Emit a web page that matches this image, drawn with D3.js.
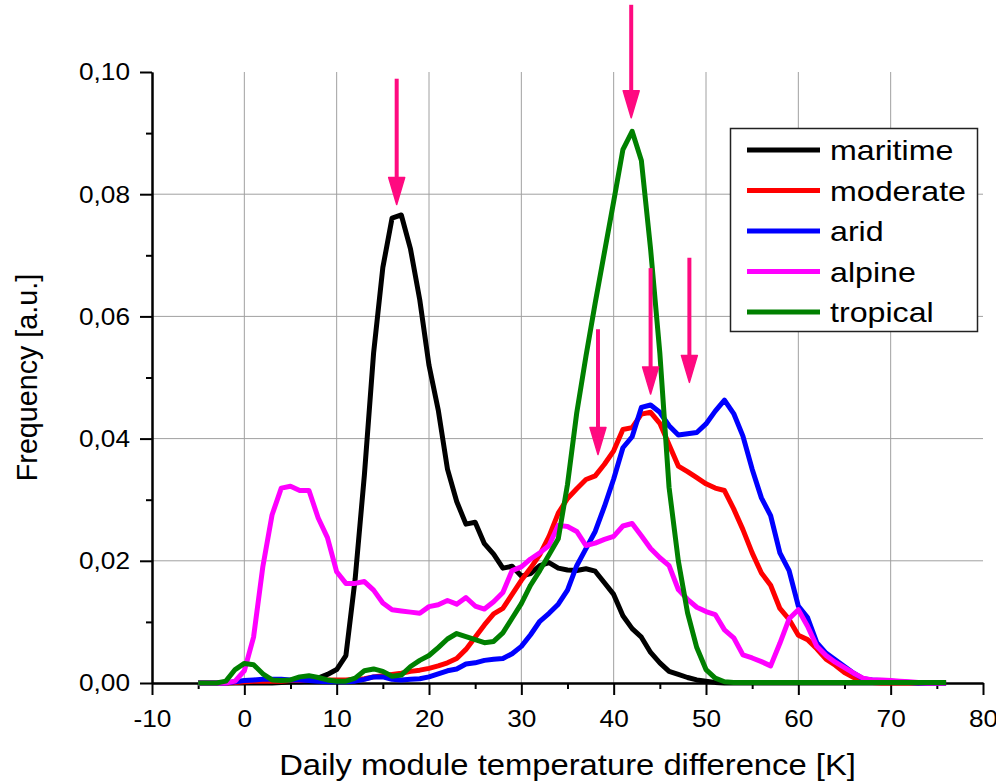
<!DOCTYPE html>
<html>
<head>
<meta charset="utf-8">
<title>Daily module temperature difference</title>
<script src="https://cdn.jsdelivr.net/npm/d3@7/dist/d3.min.js"></script>
<style>
body { margin: 0; background: #fff; }
text { font-family: "Liberation Sans", Arial, sans-serif; fill: #000; }
.grid line { stroke: #a0a0a0; stroke-width: 1px; }
.axis path, .axis line { stroke: #000; stroke-width: 2px; }
.curve { fill: none; stroke-width: 5px; stroke-linejoin: round; }
</style>
</head>
<body>
<script>

// bin positions [K], one value per bin for each climate zone
var bins = d3.range(-5, 77);

var maritime = [
  0, 0, 0, 0, 0, 0, 0, 0, 0, 0.0001,
  0.0002, 0.0002, 0.0003, 0.0008, 0.0014, 0.0022, 0.0045, 0.017, 0.034, 0.054,
  0.068, 0.0761, 0.0766, 0.071, 0.0627, 0.052, 0.0447, 0.035, 0.0297, 0.026,
  0.0263, 0.0228, 0.0211, 0.0188, 0.0191, 0.0175, 0.0179, 0.0192, 0.0197, 0.0188,
  0.0185, 0.0184, 0.0187, 0.0183, 0.0164, 0.0145, 0.011, 0.0089, 0.0075, 0.005,
  0.0033, 0.0019, 0.0014, 0.0009, 0.0005, 0.0003, 0.0001, 0, 0, 0,
  0, 0, 0, 0, 0, 0, 0, 0, 0, 0,
  0, 0, 0, 0, 0, 0, 0, 0, 0, 0,
  0, 0];

var moderate = [
  0, 0, 0, 0, 0.0001, 0.0002, 0.0003, 0.0003, 0.0003, 0.0003,
  0.0004, 0.0004, 0.0005, 0.0005, 0.0005, 0.0005, 0.0005, 0.0006, 0.0007, 0.001,
  0.0012, 0.0014, 0.0016, 0.0019, 0.0021, 0.0024, 0.0028, 0.0033, 0.004, 0.0055,
  0.0075, 0.0095, 0.0113, 0.0122, 0.0145, 0.0168, 0.0188, 0.021, 0.024, 0.0278,
  0.0302, 0.0318, 0.0333, 0.0339, 0.0358, 0.038, 0.0415, 0.0418, 0.044, 0.0443,
  0.0425, 0.039, 0.0355, 0.0346, 0.0336, 0.0326, 0.0319, 0.0315, 0.0285, 0.0251,
  0.0213, 0.018, 0.016, 0.0122, 0.0104, 0.0078, 0.0071, 0.0056, 0.0039, 0.0029,
  0.0017, 0.0009, 0.0003, 0.0001, 0, 0, 0, 0, 0, 0,
  0, 0];

var arid = [
  0, 0, 0, 0, 0.0002, 0.0004, 0.0005, 0.0006, 0.0006, 0.0006,
  0.0005, 0.0005, 0.0004, 0.0003, 0.0002, 0.0002, 0.0002, 0.0003, 0.0006, 0.001,
  0.001, 0.0006, 0.0005, 0.0006, 0.0007, 0.001, 0.0015, 0.002, 0.0023, 0.0031,
  0.0033, 0.0037, 0.0039, 0.004, 0.0048, 0.006, 0.0079, 0.0101, 0.0114, 0.0129,
  0.0152, 0.0192, 0.022, 0.0248, 0.0289, 0.0334, 0.0385, 0.0403, 0.0451, 0.0455,
  0.0443, 0.0421, 0.0406, 0.0408, 0.041, 0.0424, 0.0445, 0.0463, 0.0441, 0.0404,
  0.035, 0.0303, 0.0274, 0.0213, 0.0184, 0.0126, 0.0107, 0.0066, 0.0049, 0.0038,
  0.0027, 0.0016, 0.0007, 0.0005, 0.0004, 0.0003, 0.0002, 0.0001, 0, 0,
  0, 0];

var alpine = [
  0, 0, 0, 0, 0.0003, 0.002, 0.0075, 0.019, 0.0275, 0.0319,
  0.0322, 0.0315, 0.0315, 0.027, 0.0238, 0.0182, 0.0163, 0.0163, 0.0166, 0.0152,
  0.0131, 0.012, 0.0118, 0.0116, 0.0114, 0.0125, 0.0128, 0.0135, 0.0129, 0.014,
  0.0126, 0.0121, 0.0133, 0.0148, 0.0184, 0.019, 0.0203, 0.0213, 0.0225, 0.0258,
  0.0256, 0.0248, 0.0225, 0.0229, 0.0235, 0.024, 0.0257, 0.0261, 0.0241, 0.022,
  0.0205, 0.0192, 0.0153, 0.0137, 0.0124, 0.0117, 0.0112, 0.0087, 0.0074, 0.0046,
  0.0041, 0.0035, 0.0028, 0.0065, 0.0105, 0.012, 0.0093, 0.006, 0.0045, 0.0034,
  0.0025, 0.0016, 0.0008, 0.0005, 0.0005, 0.0004, 0.0003, 0.0002, 0.0001, 0,
  0, 0];

var tropical = [
  0, 0, 0, 0.0003, 0.0022, 0.0032, 0.003, 0.0015, 0.0005, 0.0004,
  0.0005, 0.001, 0.0012, 0.0009, 0.0005, 0.0003, 0.0003, 0.0008, 0.002, 0.0023,
  0.0019, 0.0011, 0.0013, 0.0027, 0.0037, 0.0045, 0.0058, 0.0072, 0.0081, 0.0076,
  0.0071, 0.0066, 0.0068, 0.0082, 0.0106, 0.013, 0.016, 0.0184, 0.021, 0.0236,
  0.0325, 0.0442, 0.0535, 0.0622, 0.0705, 0.0788, 0.0873, 0.0903, 0.0855, 0.071,
  0.054, 0.032, 0.02, 0.0115, 0.0058, 0.0022, 0.0008, 0.0002, 0.0001, 0.0001,
  0.0001, 0.0001, 0.0001, 0.0001, 0.0001, 0.0001, 0.0001, 0.0001, 0.0001, 0.0001,
  0.0001, 0.0001, 0.0001, 0.0001, 0.0001, 0.0001, 0.0001, 0.0001, 0.0001, 0.0001,
  0.0001, 0.0001];

var seriesNames = ["maritime", "moderate", "arid", "alpine", "tropical"];
var seriesColors = ["#000000", "#ff0000", "#0000ff", "#ff00ff", "#008000"];
var seriesValues = [maritime, moderate, arid, alpine, tropical];

var xTicks = [-10, 0, 10, 20, 30, 40, 50, 60, 70, 80];
var yTicks = [0, 0.02, 0.04, 0.06, 0.08, 0.10];

// peak markers: position [K], top and tip of the arrow
var arrowX = [16.5, 41.9, 38.3, 44.0, 48.2];
var arrowTop = [0.0989, 0.111, 0.0579, 0.0679, 0.0696];
var arrowTip = [0.0783, 0.0925, 0.0374, 0.0473, 0.0492];

var width = 996, height = 781;
var margin = {left: 152, right: 13, top: 72, bottom: 98};
var stretch = 1.13;   // the original text is a little wide

var svg = d3.select("body").append("svg")
    .attr("width", width)
    .attr("height", height);

var x = d3.scaleLinear().domain([-10, 80]).range([margin.left, width - margin.right]);
var y = d3.scaleLinear().domain([0, 0.10]).range([height - margin.bottom, margin.top]);

// grid
var grid = svg.append("g").attr("class", "grid");
grid.selectAll(".gx")
    .data(xTicks.filter(function(d) { return d > -10 && d < 80; }))
  .enter().append("line")
    .attr("x1", function(d) { return x(d); })
    .attr("x2", function(d) { return x(d); })
    .attr("y1", y(0))
    .attr("y2", y(0.10));
grid.selectAll(".gy")
    .data(yTicks.filter(function(d) { return d > 0 && d < 0.1; }))
  .enter().append("line")
    .attr("x1", x(-10))
    .attr("x2", x(80))
    .attr("y1", function(d) { return y(d); })
    .attr("y2", function(d) { return y(d); });

// axes
var fmt = function(d) { return d3.format(".2f")(d).replace(".", ","); };

svg.append("g")
    .attr("class", "axis")
    .attr("transform", "translate(0," + y(0) + ")")
    .call(d3.axisBottom(x).tickValues(d3.range(-5, 80, 10)).tickSize(6).tickSizeOuter(0).tickFormat(""));
svg.append("g")
    .attr("class", "axis")
    .attr("transform", "translate(" + x(-10) + ",0)")
    .call(d3.axisLeft(y).tickValues(d3.range(0.01, 0.1, 0.02)).tickSize(6).tickSizeOuter(0).tickFormat(""));

var xAxis = svg.append("g")
    .attr("class", "axis")
    .attr("transform", "translate(0," + y(0) + ")")
    .call(d3.axisBottom(x).tickValues(xTicks).tickSize(12).tickSizeOuter(0).tickPadding(15)
      .tickFormat(function(d) { return String(d); }));
xAxis.selectAll("text")
    .style("font-size", "24.5px")
    .attr("transform", "scale(1.07,1)");

var yAxis = svg.append("g")
    .attr("class", "axis")
    .attr("transform", "translate(" + x(-10) + ",0)")
    .call(d3.axisLeft(y).tickValues(yTicks).tickSize(12).tickSizeOuter(0).tickPadding(10).tickFormat(fmt));
yAxis.selectAll("text")
    .style("font-size", "24.5px")
    .attr("x", -22 / 1.07)
    .attr("transform", "scale(1.07,1)");

svg.append("text")
    .attr("transform", "translate(" + (x(-10) + x(80)) / 2 + ",775) scale(" + stretch + ",1)")
    .attr("text-anchor", "middle")
    .style("font-size", "29px")
    .text("Daily module temperature difference [K]");

svg.append("text")
    .attr("transform", "translate(37," + (y(0) + y(0.1)) / 2 + ") rotate(-90)")
    .attr("text-anchor", "middle")
    .style("font-size", "28.7px")
    .text("Frequency [a.u.]");

// curves
var line = d3.line()
    .x(function(d) { return x(d[0]); })
    .y(function(d) { return y(d[1]); });

seriesValues.forEach(function(vals, i) {
  svg.append("path")
      .attr("class", "curve")
      .attr("d", line(bins.map(function(b, j) { return [b, vals[j]]; })))
      .style("stroke", seriesColors[i]);
});

// arrows
var headLen = 27, headW = 8;
arrowX.forEach(function(ax, i) {
  var px = x(ax), top = y(arrowTop[i]), tip = y(arrowTip[i]);
  svg.append("line")
      .attr("x1", px).attr("x2", px)
      .attr("y1", top).attr("y2", tip - headLen + 2)
      .style("stroke", "#ff0a80")
      .style("stroke-width", 4);
  svg.append("path")
      .attr("d", "M" + (px - headW) + "," + (tip - headLen) +
                 "L" + (px + headW) + "," + (tip - headLen) +
                 "L" + px + "," + tip + "Z")
      .style("fill", "#ff0a80")
      .style("stroke", "#ff0a80")
      .style("stroke-width", 1.5)
      .style("stroke-linejoin", "round");
});

// legend
var legend = svg.append("g").attr("transform", "translate(730,128)");
legend.append("rect")
    .attr("x", 0.5).attr("y", 0.5)
    .attr("width", 247).attr("height", 203)
    .style("fill", "#fff")
    .style("stroke", "#222")
    .style("stroke-width", 1.5);

var rows = legend.selectAll(".row")
    .data(seriesNames)
  .enter().append("g")
    .attr("transform", function(d, i) { return "translate(0," + (22 + i * 40.5) + ")"; });
rows.append("line")
    .attr("x1", 17).attr("x2", 90)
    .style("stroke", function(d, i) { return seriesColors[i]; })
    .style("stroke-width", 5);
rows.append("text")
    .attr("transform", "translate(100,0) scale(" + stretch + ",1)")
    .attr("dy", "0.36em")
    .style("font-size", "28.5px")
    .text(function(d) { return d; });

</script>
</body>
</html>
